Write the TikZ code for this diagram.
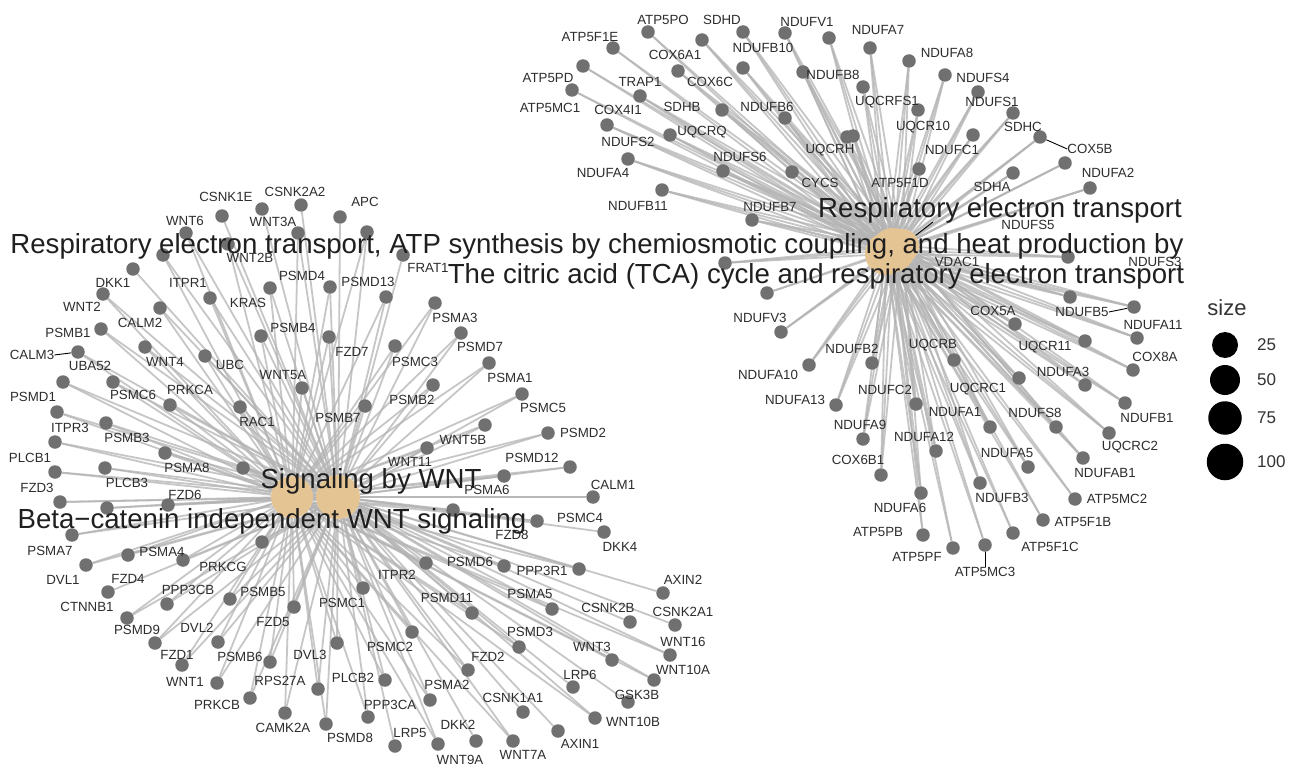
\documentclass[tikz,border=0pt]{standalone}
\usepackage{fontspec}
\setmainfont{Liberation Sans}
\pgfdeclarelayer{bg}
\pgfsetlayers{bg,main}
\definecolor{edgec}{RGB}{180,180,180}
\definecolor{dotc}{RGB}{112,112,112}
\definecolor{catc}{RGB}{229,196,148}
\definecolor{lblc}{RGB}{45,45,45}
\tikzset{
  gdot/.style={circle,fill=dotc,inner sep=0pt,minimum size=13.5pt},
  catnode/.style={circle,fill=catc,inner sep=0pt},
  glab/.style={font=\fontsize{13.3}{13.3}\selectfont,text=lblc,inner sep=0pt},
  clab/.style={font=\fontsize{27.6}{27.6}\selectfont,text=black!88,inner sep=0pt,anchor=base},
  edge/.style={draw=edgec,line width=1.8pt,opacity=0.75},
  seg/.style={draw=black,line width=0.9pt},
  legdot/.style={circle,fill=black,inner sep=0pt},
  legtxt/.style={font=\fontsize{17}{17}\selectfont,text=black!80,anchor=west,inner sep=0pt},
}
\def\wntlist{222/216/1,262/209/1,301/205/1,340/217/1,186/233/2,298/233/2,367/232/2,403/255/1,
163/255/2,228/244/2,133/269/1,103/294/2,210/298/2,270/288/2,330/287/2,386/297/2,
160/308/2,101/329/2,261/336/2,78/352/2,63/382/2,113/382/2,145/347/2,205/356/2,
57/412/2,170/405/2,302/388/2,240/407/2,55/442/2,106/423/2,55/472/2,165/453/2,
105/468/2,243/468/2,60/502/2,168/505/2,107/508/2,72/535/2,262/542/2,128/555/2,
183/560/2,86/565/2,108/592/1,167/604/2,230/599/2,294/607/2,127/618/2,155/643/2,
218/642/2,182/665/2,270/662/2,337/643/2,217/683/2,318/689/2,250/698/2,285/713/2,
326/724/2,363/588/2,412/632/2,385/680/2,368/717/2,395/746/1,438/744/2,476/741/1,
513/741/2,558/731/1,523/712/1,430/700/2,468/670/2,426/563/2,472/613/2,519/647/2,
552/609/2,573/687/1,595/718/2,628/702/1,612/660/2,654/680/2,670/655/2,630/622/1,
675/625/1,663/593/1,579/569/2,504/566/2,604/532/1,537/521/2,453/510/2,593/497/2,
504/476/2,570/467/2,548/433/2,485/425/2,427/448/2,522/394/2,365/406/2,433/385/2,
489/363/2,461/333/2,395/346/2,329/337/2,435/303/2}
\def\resplist{648/32/1,743/32/3,702/40/3,785/33/3,829/38/3,870/48/3,613/48/1,678/71/3,
743/68/3,803/72/3,863/87/3,909/61/3,945/75/3,978/92/3,1013/113/3,1040/137/3,
973/135/3,918/110/3,853/136/3,1090/188/3,1065/163/3,1013/173/3,919/169/1,792/172/3,
723/171/3,670/135/3,722/110/3,785/118/3,640/96/3,583/66/1,572/90/1,607/125/3,
628/159/3,662/190/3,752/220/3,847/137/3,725/263/3,767/293/1,781/332/3,1068/257/3,
1070/297/3,1015/324/3,1134/307/3,1085/341/3,1137/338/3,872/363/3,954/360/3,809/365/3,
836/405/3,916/404/3,990/427/3,863/439/3,936/451/3,881/475/3,980/483/3,921/493/3,
923/535/1,953/548/1,985/545/1,1133/370/3,1085/385/3,1019/378/3,1125/403/3,1056/427/3,
1109/433/3,1028/467/3,1083/458/3,1075/499/1,1043/520/1,1013/533/1}
\begin{document}
\begin{tikzpicture}[x=1pt,y=-1pt]
\begin{pgfonlayer}{bg}
\fill[white] (0,0) rectangle (1298,770);
\end{pgfonlayer}
\useasboundingbox (0,0) rectangle (1298,770);

% category nodes
\node[catnode,minimum size=42pt] (beta) at (292,497) {};
\node[catnode,minimum size=44pt] (sig) at (338,497) {};
\node[catnode,minimum size=42pt] (ra) at (886,254) {};
\node[catnode,minimum size=44pt] (rb) at (893,250) {};
\node[catnode,minimum size=34pt] (rc) at (902,246) {};

% gene dots
\foreach \x/\y/\f [count=\i] in \wntlist { \node[gdot] (w\i) at (\x,\y) {}; }
\foreach \x/\y/\f [count=\i] in \resplist { \node[gdot] (r\i) at (\x,\y) {}; }

% connectors
\begin{pgfonlayer}{bg}
\foreach \x/\y/\f [count=\i] in \wntlist {
  \draw[edge] (sig) -- (w\i);
  \ifnum\f=2 \draw[edge] (beta) -- (w\i);\fi
}
\foreach \x/\y/\f [count=\i] in \resplist {
  \draw[edge] (ra) -- (r\i);
  \draw[edge] (rb) -- (r\i);
  \ifnum\f=3 \draw[edge] (rc) -- (r\i);\fi
}
\end{pgfonlayer}

% WNT gene labels
\foreach \t/\x/\y in {
CSNK1E/226/197,CSNK2A2/295/192,APC/365/202,WNT6/185/221,WNT3A/273/222,FRAT1/428/268,
WNT2B/250/258,DKK1/113/283,ITPR1/188/283,PSMD4/302/276,PSMD13/368/282,KRAS/248/303,
WNT2/82/307,CALM2/140/323,PSMB1/68/333,PSMB4/293/328,CALM3/32/355,UBA52/90/366,
WNT4/165/362,UBC/230/365,WNT5A/283/375,PRKCA/190/390,PSMC6/133/395,PSMD1/33/397,
RAC1/257/422,ITPR3/70/428,PSMB3/127/438,PLCB1/30/458,PSMA8/187/468,PLCB3/127/483,
FZD3/37/488,FZD6/185/495,PSMA7/50/551,PSMA4/162/552,PRKCG/223/567,DVL1/63/580,
FZD4/128/579,PPP3CB/188/590,PSMB5/263/592,CTNNB1/87/607,FZD5/273/622,DVL2/197/628,
PSMD9/137/630,FZD1/177/655,PSMB6/240/657,DVL3/310/655,WNT1/185/682,RPS27A/280/681,
PRKCB/217/705,CAMK2A/283/728,PSMD8/350/738,PSMC1/342/603,PSMC2/390/647,PLCB2/353/678,
PPP3CA/390/705,LRP5/410/733,DKK2/458/725,WNT9A/460/760,WNT7A/523/755,AXIN1/580/744,
CSNK1A1/513/698,PSMA2/447/685,FZD2/488/657,LRP6/580/675,GSK3B/637/695,WNT10B/633/722,
WNT3/592/647,WNT10A/683/670,WNT16/683/642,CSNK2B/608/608,CSNK2A1/683/612,AXIN2/683/580,
PSMD3/530/632,PSMA5/530/594,PSMD11/447/598,ITPR2/397/575,PSMD6/470/562,PPP3R1/542/571,
DKK4/620/547,PSMC4/580/518,FZD8/512/535,CALM1/613/485,PSMA6/487/490,PSMD12/532/458,
PSMD2/583/433,WNT5B/463/440,WNT11/410/462,PSMC5/543/408,PSMB7/338/418,PSMB2/412/400,
PSMA1/510/378,PSMD7/480/347,PSMC3/415/362,FZD7/352/352,PSMA3/455/318}{
  \node[glab] (l-\t) at (\x,\y) {\t};
}

% Respiratory gene labels
\foreach \t/\x/\y in {
ATP5PO/663/20,SDHD/722/20,NDUFV1/807/22,NDUFA7/878/30,ATP5F1E/590/37,NDUFB10/763/48,
NDUFA8/947/53,COX6A1/675/55,NDUFB8/833/75,NDUFS4/983/78,ATP5PD/548/78,TRAP1/640/82,
COX6C/710/82,NDUFS1/992/102,UQCRFS1/887/102,SDHB/682/107,NDUFB6/767/107,ATP5MC1/550/108,
COX4I1/618/110,SDHC/1023/127,UQCR10/923/127,UQCRQ/702/132,NDUFS2/628/142,COX5B/1090/149,
NDUFC1/952/150,UQCRH/830/150,NDUFS6/740/157,NDUFA4/603/173,NDUFA2/1108/173,ATP5F1D/900/183,
CYCS/820/183,SDHA/992/187,NDUFB11/638/206,NDUFB7/770/207,NDUFS5/1028/225,VDAC1/957/262,
NDUFS3/1155/262,NDUFV3/760/318,COX5A/993/311,NDUFB5/1082/312,NDUFA11/1153/325,UQCR11/1045/347,
NDUFB2/852/349,UQCRB/933/345,COX8A/1155/357,NDUFA10/768/375,NDUFA3/1063/372,UQCRC1/978/389,
NDUFC2/885/390,NDUFA13/795/400,NDUFA1/955/412,NDUFS8/1035/413,NDUFB1/1147/418,NDUFA9/860/425,
NDUFA12/924/437,UQCRC2/1130/447,NDUFA5/1007/453,COX6B1/858/460,NDUFAB1/1105/473,NDUFB3/1002/498,
ATP5MC2/1117/499,NDUFA6/900/508,ATP5F1B/1083/522,ATP5PB/878/532,ATP5F1C/1050/547,ATP5PF/917/557,
ATP5MC3/985/572}{
  \node[glab] (l-\t) at (\x,\y) {\t};
}

% label segments
\draw[seg] (l-CALM3.east) -- (w20);
\draw[seg] (r16) -- (l-COX5B.west);
\draw[seg] (l-NDUFB5.east) -- (r43);
\draw[seg] (r59) -- (l-ATP5MC3.north);

% category labels
\node[clab] (t-ra) at (597,253) {Respiratory electron transport, ATP synthesis by chemiosmotic coupling, and heat production by};
\node[clab] (t-rb) at (816,283) {The citric acid (TCA) cycle and respiratory electron transport};
\node[clab] (t-rc) at (1000,218) {Respiratory electron transport};
\node[clab] (t-sig) at (371,488) {Signaling by WNT};
\node[clab] (t-beta) at (272,528) {Beta\textminus catenin independent WNT signaling};
\coordinate (rcs) at (933,222);
\draw[seg] (rcs) -- (rc);

% legend
\node[font=\fontsize{22}{22}\selectfont,text=black!80,inner sep=0pt] (legt) at (1227,308) {size};
\node[legdot,minimum size=26pt] (lg1) at (1225,345) {};
\node[legdot,minimum size=30pt] (lg2) at (1225,380) {};
\node[legdot,minimum size=33.5pt] (lg3) at (1225,418) {};
\node[legdot,minimum size=36.5pt] (lg4) at (1225,462) {};
\node[legtxt] (lgt1) at (1257,345) {25};
\node[legtxt] (lgt2) at (1257,380) {50};
\node[legtxt] (lgt3) at (1257,418) {75};
\node[legtxt] (lgt4) at (1257,462) {100};
\end{tikzpicture}
\end{document}
